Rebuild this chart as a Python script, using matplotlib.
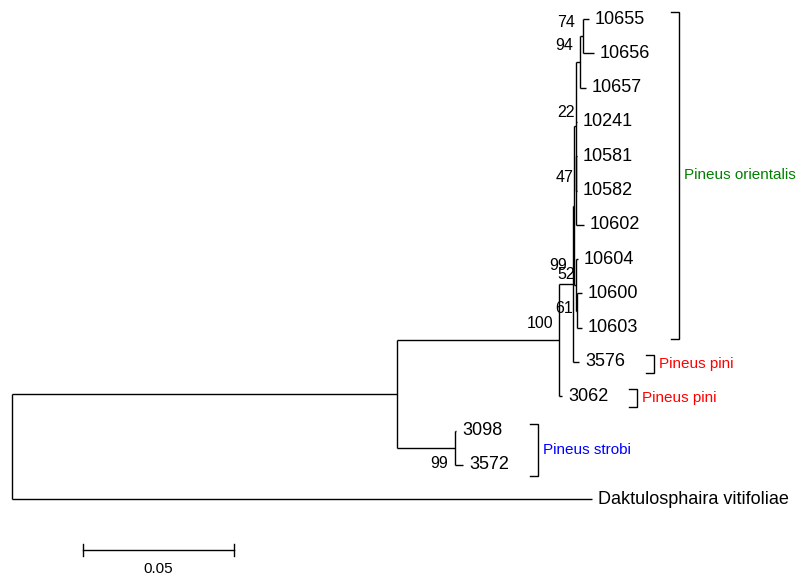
import matplotlib
matplotlib.use("Agg")
import matplotlib.pyplot as plt
from matplotlib import font_manager

# ---------------- data ----------------
edge_child = ["ingroup", "Daktulosphaira vitifoliae",
              "n100", "strobi",
              "3098", "3572",
              "b99", "3062",
              "x", "3576",
              "n22", "n52",
              "n94", "10241", "n47",
              "n74", "10657",
              "10655", "10656",
              "10581", "10582", "10602",
              "10604", "n61",
              "10600", "10603"]
edge_parent = ["root", "root",
               "ingroup", "ingroup",
               "strobi", "strobi",
               "n100", "n100",
               "b99", "b99",
               "x", "x",
               "n22", "n22", "n22",
               "n94", "n94",
               "n74", "n74",
               "n47", "n47", "n47",
               "n52", "n52",
               "n61", "n61"]
branch_length = [0.1275, 0.1920,
                 0.0536, 0.0192,
                 0.0003, 0.0027,
                 0.0046, 0.0010,
                 0.0003, 0.0020,
                 0.0007, 0.0007,
                 0.0013, 0.0003, 0.0001,
                 0.0010, 0.0020,
                 0.0020, 0.0036,
                 0.0002, 0.0002, 0.0025,
                 0.0007, 0.0003,
                 0.0017, 0.0017]

support_nodes = ["n74", "n94", "n22", "n47", "b99", "n52", "n61", "n100", "strobi"]
support_values = [74, 94, 22, 47, 99, 52, 61, 100, 99]
# label placement relative to node (pixels: right edge dx, bottom dy; +dy = down)
support_dx = [-8, -7, -1, -3, -6, -1, -4, -6, -7]
support_dy = [-6, -9, -6, -5, -11, -3, 5, -9, 23]

group_names = ["Pineus orientalis", "Pineus pini", "Pineus pini", "Pineus strobi"]
group_first = ["10655", "3576", "3062", "3098"]
group_last = ["10603", "3576", "3062", "3572"]
group_colors = ["#008000", "#ff0000", "#ff0000", "#0000ff"]

scale_length = 0.05
scale_label = "0.05"

# ---------------- fonts ----------------
available = {f.name for f in font_manager.fontManager.ttflist}
if "Liberation Sans Narrow" in available:
    narrow = ["Liberation Sans Narrow", "DejaVu Sans"]
    group_size = 13
else:
    narrow = ["Liberation Sans", "DejaVu Sans"]
    group_size = 11
regular = ["Liberation Sans", "DejaVu Sans"]

# ---------------- layout ----------------
children = {}
for c, p in zip(edge_child, edge_parent):
    children.setdefault(p, []).append(c)
blen = dict(zip(edge_child, branch_length))

xpos = {"root": 0.0}
ypos = {}
tips = []


def layout(node):
    for ch in children.get(node, []):
        xpos[ch] = xpos[node] + blen[ch]
        layout(ch)
    if node in children:
        ypos[node] = (ypos[children[node][0]] + ypos[children[node][-1]]) / 2
    else:
        ypos[node] = len(tips)
        tips.append(node)


layout("root")

W, H, DPI = 7.96, 5.79, 100
PX_PER_UNIT = 3020.0
PX_PER_TIP = 34.3
ROOT_PX, FIRST_TIP_PX = 12.0, 19.0

fig = plt.figure(figsize=(W, H), dpi=DPI)
ax = fig.add_axes([0, 0, 1, 1])
ax.set_xlim(-ROOT_PX / PX_PER_UNIT, (W * DPI - ROOT_PX) / PX_PER_UNIT)
ax.set_ylim((H * DPI - FIRST_TIP_PX) / PX_PER_TIP, -FIRST_TIP_PX / PX_PER_TIP)
ax.axis("off")

LW = 1.0
PT = 0.72  # points per pixel

# branches
for node, chs in children.items():
    ax.plot([xpos[node], xpos[node]], [ypos[chs[0]], ypos[chs[-1]]],
            color="black", lw=LW, solid_capstyle="butt")
    for ch in chs:
        ax.plot([xpos[node], xpos[ch]], [ypos[ch], ypos[ch]],
                color="black", lw=LW, solid_capstyle="butt")

# tip labels
tip_text = {}
for t in tips:
    tip_text[t] = ax.annotate(t, (xpos[t], ypos[t]), xytext=(6 * PT, 0),
                              textcoords="offset points", ha="left", va="center",
                              fontsize=13, family=regular, color="black")

# support values
for n, v, dx, dy in zip(support_nodes, support_values, support_dx, support_dy):
    ax.annotate(str(v), (xpos[n], ypos[n]), xytext=(dx * PT, -dy * PT),
                textcoords="offset points", ha="right", va="bottom",
                fontsize=11.5, family=narrow)

# group brackets
fig.canvas.draw()
renderer = fig.canvas.get_renderer()
inv = ax.transData.inverted()
for name, first, last, col in zip(group_names, group_first, group_last, group_colors):
    i0, i1 = tips.index(first), tips.index(last)
    right_px = max(tip_text[t].get_window_extent(renderer).x1 for t in tips[i0:i1 + 1])
    bx = inv.transform((right_px + 29, 0))[0]
    tick = 8 / PX_PER_UNIT
    y0 = ypos[first] - 7 / PX_PER_TIP
    y1 = ypos[last] + 11 / PX_PER_TIP
    ax.plot([bx - tick, bx, bx, bx - tick], [y0, y0, y1, y1], color="black", lw=LW,
            solid_joinstyle="miter")
    ax.annotate(name, (bx, (y0 + y1) / 2), xytext=(5 * PT, 0), textcoords="offset points",
                ha="left", va="center", fontsize=group_size, family=narrow, color=col)

# scale bar
sx0 = (83 - ROOT_PX) / PX_PER_UNIT
sy = len(tips) - 1 + (553 - 502) / PX_PER_TIP
tk = 6 / PX_PER_TIP
ax.plot([sx0, sx0 + scale_length], [sy, sy], color="black", lw=LW)
ax.plot([sx0, sx0], [sy - tk, sy + tk], color="black", lw=LW)
ax.plot([sx0 + scale_length, sx0 + scale_length], [sy - tk, sy + tk], color="black", lw=LW)
ax.annotate(scale_label, (sx0 + scale_length / 2, sy), xytext=(0, -12 * PT),
            textcoords="offset points", ha="center", va="top", fontsize=11, family=narrow)

fig.savefig("out.png", dpi=DPI)
